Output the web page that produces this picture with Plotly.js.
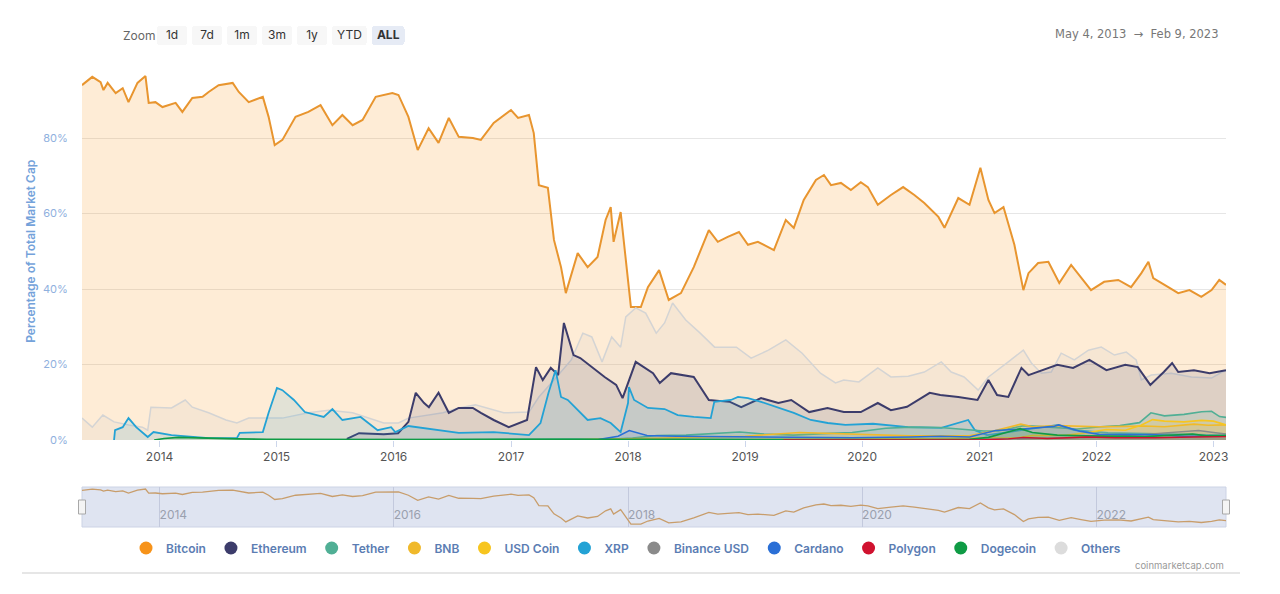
<!DOCTYPE html>
<html>
<head>
<meta charset="utf-8">
<script src="https://cdn.plot.ly/plotly-3.0.1.min.js"></script>
<style>html,body{margin:0;padding:0;background:#fff;}#chart{width:1280px;height:594px;}</style>
</head>
<body>
<div id="chart"></div>
<script>
// ---------- Data (dominance, % of total market cap) ----------
const btcDates = ["2013-05-04","2013-06-05","2013-07-01","2013-07-10","2013-07-23","2013-08-17","2013-09-08","2013-09-26","2013-10-24","2013-11-18","2013-11-28","2013-12-19","2014-01-10","2014-02-20","2014-03-13","2014-04-13","2014-05-15","2014-06-03","2014-07-04","2014-08-17","2014-09-05","2014-10-06","2014-11-19","2014-12-07","2014-12-26","2015-01-19","2015-03-01","2015-04-10","2015-05-18","2015-06-24","2015-07-25","2015-08-26","2015-09-26","2015-11-06","2015-12-28","2016-01-16","2016-02-16","2016-03-16","2016-04-19","2016-05-20","2016-06-21","2016-07-22","2016-09-04","2016-09-29","2016-11-08","2017-01-01","2017-01-23","2017-02-26","2017-03-13","2017-03-29","2017-04-26","2017-05-15","2017-06-06","2017-06-21","2017-07-28","2017-08-28","2017-09-28","2017-10-23","2017-11-08","2017-11-17","2017-12-09","2018-01-10","2018-02-10","2018-03-04","2018-04-08","2018-05-08","2018-06-15","2018-07-25","2018-09-10","2018-10-08","2018-11-08","2018-12-13","2019-01-10","2019-02-10","2019-04-01","2019-05-08","2019-06-02","2019-07-03","2019-08-10","2019-09-04","2019-09-26","2019-10-27","2019-11-27","2019-12-28","2020-01-19","2020-02-19","2020-03-31","2020-05-08","2020-06-12","2020-07-13","2020-08-26","2020-09-14","2020-10-27","2020-12-01","2021-01-04","2021-01-29","2021-02-17","2021-03-17","2021-04-20","2021-05-18","2021-06-03","2021-07-03","2021-08-04","2021-09-07","2021-10-14","2021-11-14","2021-12-15","2022-01-25","2022-03-10","2022-04-19","2022-05-21","2022-06-12","2022-06-27","2022-08-13","2022-09-13","2022-10-18","2022-11-24","2022-12-26","2023-01-19","2023-02-09"];
const btcValues = [94.0,96.2,94.8,92.7,94.6,91.9,93.2,89.5,94.6,96.4,89.3,89.5,88.2,89.3,86.9,90.6,90.9,92.2,94.0,94.6,92.2,89.5,90.9,85.6,78.1,79.5,85.6,86.9,88.7,83.4,86.1,83.4,84.8,90.9,91.9,91.4,85.6,76.8,82.6,78.7,85.3,80.3,80.0,79.5,84.0,87.4,85.3,86.1,81.3,67.5,66.8,53.0,45.8,38.9,49.5,45.8,48.5,58.3,61.7,52.5,60.4,35.2,35.2,40.5,45.0,37.1,38.9,45.8,55.6,52.5,53.8,55.1,51.7,52.5,50.3,58.3,56.2,63.6,68.9,70.2,67.5,68.1,66.2,68.3,67.0,62.3,64.9,67.0,64.9,62.8,59.1,56.2,64.1,62.3,72.1,63.6,60.1,61.7,51.7,39.7,44.2,46.9,47.2,41.6,46.4,42.9,39.7,41.9,42.4,40.5,44.2,47.2,42.9,40.5,38.9,39.7,37.9,39.7,42.4,41.1];

const ethDates = ["2015-08-08","2015-09-15","2015-12-01","2016-01-15","2016-02-16","2016-03-10","2016-04-05","2016-04-20","2016-05-20","2016-06-21","2016-07-22","2016-09-04","2016-09-29","2016-11-08","2016-12-25","2017-02-20","2017-03-20","2017-04-10","2017-05-05","2017-05-28","2017-06-15","2017-07-15","2017-08-05","2017-09-10","2017-10-20","2017-11-25","2017-12-15","2018-01-25","2018-03-20","2018-04-10","2018-05-15","2018-07-25","2018-09-10","2018-11-15","2018-12-20","2019-02-20","2019-04-15","2019-05-25","2019-07-20","2019-09-15","2019-11-05","2019-12-28","2020-02-19","2020-03-31","2020-05-20","2020-07-30","2020-09-01","2020-10-27","2020-12-26","2021-01-29","2021-02-25","2021-04-01","2021-05-12","2021-06-03","2021-07-20","2021-09-01","2021-10-20","2021-12-10","2022-02-01","2022-04-01","2022-05-10","2022-06-18","2022-07-30","2022-08-25","2022-09-13","2022-11-01","2022-12-20","2023-02-09"];
const ethValues = [0.3,1.8,1.5,1.8,4.8,12.5,9.8,8.7,12.5,7.2,8.5,8.5,7.2,5.3,3.4,5.3,19.3,15.9,19.1,17.2,31.0,22.5,21.7,19.3,16.7,14.6,11.1,20.7,17.7,15.1,17.7,16.7,10.6,10.1,8.7,11.1,9.8,10.6,7.4,8.5,7.4,7.4,9.8,7.9,8.8,12.5,11.9,11.4,10.6,15.9,11.9,11.4,19.1,17.2,18.5,19.9,19.1,21.2,18.5,19.9,19.3,14.6,18.0,20.4,18.0,18.5,17.7,18.5];

const usdtDates = ["2015-03-01","2017-01-01","2017-06-01","2017-12-01","2018-01-15","2018-04-01","2018-07-01","2018-10-01","2018-12-15","2019-03-01","2019-06-01","2019-09-01","2019-12-01","2020-03-15","2020-06-01","2020-09-01","2020-12-01","2021-01-15","2021-03-01","2021-05-20","2021-07-01","2021-09-01","2021-11-01","2022-01-15","2022-03-15","2022-05-15","2022-06-20","2022-08-01","2022-10-01","2022-11-25","2022-12-26","2023-01-20","2023-02-09"];
const usdtValues = [0.0,0.1,0.2,0.3,0.5,1.2,1.3,1.8,2.1,1.6,1.3,1.7,2.0,3.1,3.4,3.3,2.8,2.4,2.4,3.8,3.6,3.2,2.9,3.5,3.8,4.6,7.2,6.4,6.8,7.5,7.6,6.2,6.0];

const bnbDates = ["2017-07-25","2018-01-15","2018-06-01","2019-01-01","2019-06-20","2019-12-01","2020-06-01","2020-12-01","2021-02-20","2021-05-10","2021-06-15","2021-09-01","2021-11-01","2022-01-10","2022-04-01","2022-06-01","2022-08-01","2022-11-01","2022-12-15","2023-02-09"];
const bnbValues = [0.02,0.3,0.6,1.0,2.0,1.5,1.1,1.1,2.5,4.2,3.5,3.8,3.7,3.5,3.6,3.7,3.5,4.2,3.9,4.0];

const usdcDates = ["2018-10-01","2019-06-01","2020-03-01","2020-08-01","2020-12-01","2021-02-01","2021-05-01","2021-06-15","2021-08-01","2021-10-01","2021-12-01","2022-02-01","2022-04-01","2022-05-20","2022-06-25","2022-08-01","2022-10-01","2022-11-25","2023-01-01","2023-02-09"];
const usdcValues = [0.05,0.1,0.1,0.3,0.5,0.5,0.6,1.2,1.3,1.3,1.9,2.8,2.6,3.9,5.4,5.0,4.8,5.2,5.0,4.0];

const xrpDates = ["2013-08-12","2013-08-15","2013-09-08","2013-09-26","2013-10-20","2013-11-25","2013-12-13","2014-02-07","2014-06-03","2014-08-30","2014-09-08","2014-11-19","2014-12-07","2015-01-02","2015-01-19","2015-02-24","2015-03-30","2015-05-28","2015-06-24","2015-07-25","2015-09-20","2015-11-12","2015-12-24","2016-01-06","2016-02-16","2016-06-03","2016-07-22","2016-11-08","2017-02-26","2017-04-03","2017-04-28","2017-05-20","2017-06-06","2017-06-27","2017-07-28","2017-08-28","2017-10-07","2017-11-08","2017-12-09","2018-01-01","2018-01-04","2018-01-20","2018-03-04","2018-04-25","2018-06-05","2018-07-25","2018-09-16","2018-09-27","2018-11-18","2018-12-10","2019-01-10","2019-02-20","2019-06-02","2019-07-25","2019-09-16","2019-11-10","2020-02-04","2020-05-24","2020-09-04","2020-11-27","2020-12-18","2021-01-25","2021-04-01","2021-05-15","2021-09-04","2021-10-24","2022-02-06","2023-01-28","2023-02-09"];
const xrpValues = [0.0,2.6,3.4,5.8,3.4,0.8,2.1,1.3,0.5,0.5,1.9,2.1,7.2,13.8,13.2,10.6,7.4,6.1,8.2,5.3,6.1,2.6,3.4,2.1,3.7,2.6,1.9,2.1,1.3,4.5,12.5,18.5,11.4,10.6,7.9,5.3,5.8,4.5,2.1,9.8,14.0,10.6,8.5,8.2,6.6,6.1,5.8,10.1,10.6,11.4,11.1,10.1,7.2,5.3,4.5,4.0,4.3,3.4,3.2,5.3,2.6,1.3,2.1,2.6,4.0,2.6,1.9,1.3,1.4];

const busdDates = ["2019-09-15","2020-06-01","2021-01-01","2021-06-01","2022-01-01","2022-06-01","2022-11-15","2023-01-01","2023-02-09"];
const busdValues = [0.0,0.05,0.2,0.4,0.7,1.5,2.5,2.0,1.6];

const adaDates = ["2017-10-01","2017-12-01","2018-01-05","2018-03-01","2018-06-01","2018-12-01","2019-06-01","2019-12-01","2020-06-01","2020-09-01","2020-12-01","2021-02-20","2021-05-15","2021-08-20","2021-09-05","2021-11-10","2022-01-10","2022-04-01","2022-07-01","2022-10-01","2023-02-09"];
const adaValues = [0.1,1.0,2.5,1.2,1.0,0.8,0.7,0.6,0.8,1.0,0.8,2.5,2.9,3.6,4.0,2.3,1.5,1.5,1.4,1.0,1.0];

const maticDates = ["2019-05-01","2021-01-01","2021-04-01","2021-05-18","2021-08-01","2021-12-01","2022-03-01","2022-07-01","2022-11-01","2023-02-09"];
const maticValues = [0.0,0.02,0.3,0.7,0.4,0.8,0.6,0.6,0.8,0.9];

const dogeDates = ["2013-12-15","2014-01-15","2014-03-01","2014-06-01","2014-09-01","2014-12-01","2015-06-01","2016-06-01","2017-06-01","2018-01-10","2018-06-01","2019-06-01","2020-06-01","2020-12-01","2021-01-29","2021-04-20","2021-05-08","2021-06-15","2021-09-01","2021-12-01","2022-06-01","2022-10-28","2022-12-10","2023-02-09"];
const dogeValues = [0.0,0.4,0.7,0.4,0.3,0.2,0.1,0.1,0.2,0.3,0.2,0.1,0.1,0.2,0.7,2.6,3.0,2.0,1.3,1.1,0.9,1.6,1.1,1.2];

const othersDates = ["2013-05-04","2013-06-05","2013-07-08","2013-08-12","2013-09-27","2013-11-08","2013-11-25","2013-12-05","2014-02-07","2014-03-22","2014-04-13","2014-06-03","2014-07-27","2014-08-30","2014-10-06","2015-01-19","2015-04-10","2015-06-12","2015-08-26","2015-10-12","2015-12-01","2016-01-16","2016-02-16","2016-06-03","2016-07-22","2016-09-12","2016-12-09","2017-02-26","2017-03-29","2017-05-15","2017-07-08","2017-08-13","2017-09-10","2017-10-12","2017-11-11","2017-12-09","2017-12-25","2018-01-25","2018-02-25","2018-03-30","2018-04-25","2018-05-20","2018-06-30","2018-08-14","2018-09-28","2018-12-05","2019-01-20","2019-03-15","2019-05-08","2019-06-28","2019-08-24","2019-10-10","2019-11-05","2019-12-22","2020-02-19","2020-03-31","2020-05-24","2020-07-13","2020-09-04","2020-10-05","2020-11-14","2020-12-28","2021-01-29","2021-04-01","2021-05-18","2021-06-12","2021-07-13","2021-08-13","2021-09-13","2021-10-24","2021-12-07","2022-01-16","2022-02-26","2022-04-04","2022-05-05","2022-05-21","2022-06-21","2022-08-22","2022-10-24","2022-12-26","2023-01-28","2023-02-09"];
const othersValues = [5.8,3.4,6.6,4.8,4.0,3.4,2.6,8.7,8.5,10.6,8.7,7.2,5.3,4.5,5.8,5.8,7.2,7.9,7.2,5.8,4.5,4.5,5.8,7.2,8.5,9.3,7.2,7.4,11.4,15.9,21.2,28.3,27.3,20.7,27.3,24.6,32.6,35.0,33.6,28.3,31.0,36.3,31.8,28.3,24.6,24.6,21.7,23.8,26.5,23.0,17.7,15.1,15.9,15.4,19.1,16.7,16.9,18.0,20.7,18.0,16.7,13.2,16.7,20.7,23.8,20.4,17.7,18.0,23.0,21.2,23.8,24.6,22.5,23.3,21.2,15.9,17.2,17.7,16.7,16.4,18.0,18.3];

const seriesNames = ["Bitcoin","Ethereum","Tether","BNB","USD Coin","XRP","Binance USD","Cardano","Polygon","Dogecoin","Others"];
const yTickVals = [0,20,40,60,80,100];
const yTickText = ["0%","20%","40%","60%","80%",""];
const rangeButtons = ["1d","7d","1m","3m","1y","YTD","ALL"];
const dateRangeText = "May 4, 2013  \u2192  Feb 9, 2023";

// ---------- Styles ----------
const styles = {
  "Bitcoin":     {line:"#e8952f", dot:"#f7931a", fill:"rgba(247,147,26,0.18)", w:2},
  "Ethereum":    {line:"#3c3c6b", dot:"#3c3c6b", fill:"rgba(60,60,110,0.13)", w:2},
  "Tether":      {line:"#50af95", dot:"#50af95", fill:"rgba(80,175,149,0.14)", w:1.6},
  "BNB":         {line:"#f0b92b", dot:"#f0b92b", fill:"rgba(240,185,43,0.14)", w:1.6},
  "USD Coin":    {line:"#f7c51f", dot:"#f7c51f", fill:"rgba(247,197,31,0.14)", w:1.6},
  "XRP":         {line:"#23a2d5", dot:"#23a2d5", fill:"rgba(35,162,213,0.13)", w:1.8},
  "Binance USD": {line:"#8a8a8a", dot:"#8a8a8a", fill:"rgba(138,138,138,0.12)", w:1.4},
  "Cardano":     {line:"#2a6fd6", dot:"#2a6fd6", fill:"rgba(42,111,214,0.12)", w:1.6},
  "Polygon":     {line:"#d0122f", dot:"#d0122f", fill:"rgba(208,18,47,0.12)", w:1.4},
  "Dogecoin":    {line:"#0f9b45", dot:"#0f9b45", fill:"rgba(15,155,69,0.12)", w:1.6},
  "Others":      {line:"#d4d4d4", dot:"#dcdcdc", fill:"rgba(200,200,200,0.14)", w:1.5}
};

const dataMap = {
  "Bitcoin":[btcDates,btcValues], "Ethereum":[ethDates,ethValues], "Tether":[usdtDates,usdtValues],
  "BNB":[bnbDates,bnbValues], "USD Coin":[usdcDates,usdcValues], "XRP":[xrpDates,xrpValues],
  "Binance USD":[busdDates,busdValues], "Cardano":[adaDates,adaValues], "Polygon":[maticDates,maticValues],
  "Dogecoin":[dogeDates,dogeValues], "Others":[othersDates,othersValues]
};

// draw order: Bitcoin at back, then Others, then the rest
const drawOrder = ["Bitcoin","Others","Ethereum","XRP","Tether","BNB","USD Coin","Binance USD","Cardano","Dogecoin","Polygon"];

const traces = [];
drawOrder.forEach(n => {
  const s = styles[n];
  traces.push({
    type:"scatter", mode:"lines", name:n, legendgroup:n, showlegend:false,
    x:dataMap[n][0], y:dataMap[n][1], fill:"tozeroy", fillcolor:s.fill,
    line:{color:s.line, width:s.w, shape:"linear"}, xaxis:"x", yaxis:"y",
    hovertemplate:"%{y:.1f}%<extra>"+n+"</extra>"
  });
});
// legend entries (circle markers)
seriesNames.forEach(n => {
  traces.push({type:"scatter", mode:"markers", name:n, legendgroup:n, showlegend:true,
    x:[null], y:[null], marker:{color:styles[n].dot, size:13, symbol:"circle"}, xaxis:"x", yaxis:"y"});
});
// navigator line
traces.push({type:"scatter", mode:"lines", x:btcDates, y:btcValues, xaxis:"x2", yaxis:"y2",
  showlegend:false, hoverinfo:"skip", line:{color:"#c89d6b", width:1.3}});

const H = 594, L = 82, R = 54, PW = 1280 - L - R;
const px = v => (v - L) / PW;
const py = v => (H - v) / H;

const font = "Inter, 'Open Sans', sans-serif";

const layout = {
  width:1280, height:594,
  margin:{l:L, r:R, t:0, b:0},
  paper_bgcolor:"#ffffff", plot_bgcolor:"rgba(0,0,0,0)",
  font:{family:font, size:12, color:"#333"},
  showlegend:true,
  legend:{orientation:"h", x:px(626), xanchor:"center", y:py(548), yanchor:"middle",
    font:{family:font, size:12, color:"#5b7db3", weight:600}, itemclick:false, itemdoubleclick:false,
    tracegroupgap:0},
  xaxis:{type:"date", domain:[0,1], anchor:"y", autorange:true, dtick:"M12", tick0:"2014-01-01",
    tickformat:"%Y", ticks:"outside", ticklen:6, tickcolor:"#ccd6eb", showgrid:false, zeroline:false,
    showline:false, tickfont:{family:font, size:12, color:"#555"},
    rangeselector:{
      buttons:[
        {count:1, label:rangeButtons[0], step:"day", stepmode:"backward"},
        {count:7, label:rangeButtons[1], step:"day", stepmode:"backward"},
        {count:1, label:rangeButtons[2], step:"month", stepmode:"backward"},
        {count:3, label:rangeButtons[3], step:"month", stepmode:"backward"},
        {count:1, label:rangeButtons[4], step:"year", stepmode:"backward"},
        {count:1, label:rangeButtons[5], step:"year", stepmode:"todate"},
        {label:"<b>"+rangeButtons[6]+"</b>", step:"all"}
      ],
      x:px(157), xanchor:"left", y:py(26), yanchor:"top",
      bgcolor:"#f7f7f7", activecolor:"#e6ebf5", bordercolor:"#f7f7f7", borderwidth:0,
      font:{family:font, size:12, color:"#333"}
    }
  },
  yaxis:{domain:[py(440), py(62.5)], anchor:"x", range:[0,100], tickvals:yTickVals, ticktext:yTickText,
    gridcolor:"#e6e6e6", gridwidth:1, zeroline:false, showline:false, ticks:"outside", ticklen:11,
    tickcolor:"rgba(0,0,0,0)", tickfont:{family:font, size:11, color:"#8fb0de"}, fixedrange:true,
    title:{text:"Percentage of Total Market Cap", standoff:4,
      font:{family:font, size:12, color:"#74a2da", weight:600}}},
  xaxis2:{type:"date", domain:[0,1], anchor:"y2", autorange:true, dtick:"M24", tick0:"2014-01-01",
    tickformat:"%Y", ticklabelposition:"inside right", ticks:"", showgrid:true, gridcolor:"#c3c9dd",
    zeroline:false, showline:false, tickfont:{family:font, size:12, color:"#9aa0ae"}, fixedrange:true},
  yaxis2:{domain:[py(527), py(487)], anchor:"x2", range:[30,100], showgrid:false, zeroline:false,
    showticklabels:false, ticks:"", fixedrange:true},
  shapes:[
    {type:"rect", xref:"x2 domain", yref:"y2 domain", x0:0, x1:1, y0:0, y1:1, layer:"below",
      fillcolor:"#dfe4f1", line:{color:"#ccd3e5", width:1}},
    {type:"rect", xref:"x2 domain", yref:"y2 domain", xsizemode:"pixel", ysizemode:"pixel",
      xanchor:0, yanchor:0.5, x0:-3.5, x1:3.5, y0:-7, y1:7, fillcolor:"#f4f4f4", line:{color:"#a8a8a8", width:1}},
    {type:"rect", xref:"x2 domain", yref:"y2 domain", xsizemode:"pixel", ysizemode:"pixel",
      xanchor:1, yanchor:0.5, x0:-3.5, x1:3.5, y0:-7, y1:7, fillcolor:"#f4f4f4", line:{color:"#a8a8a8", width:1}},
    {type:"line", xref:"paper", yref:"paper", x0:px(22), x1:px(1240), y0:py(573), y1:py(573),
      line:{color:"#dedede", width:1.5}}
  ],
  annotations:[
    {text:"Zoom", xref:"paper", yref:"paper", x:px(121), y:py(35), xanchor:"left", yanchor:"middle",
      showarrow:false, font:{family:font, size:12, color:"#666"}},
    {text:dateRangeText, xref:"paper", yref:"paper", x:px(1221), y:py(34), xanchor:"right", yanchor:"middle",
      showarrow:false, font:{family:"'DejaVu Sans', sans-serif", size:11.5, color:"#777"}},
    {text:"coinmarketcap.com", xref:"paper", yref:"paper", x:px(1226), y:py(565), xanchor:"right", yanchor:"middle",
      showarrow:false, font:{family:font, size:9.5, color:"#999"}}
  ]
};

Plotly.newPlot("chart", traces, layout, {displayModeBar:false, responsive:false});
</script>
</body>
</html>
